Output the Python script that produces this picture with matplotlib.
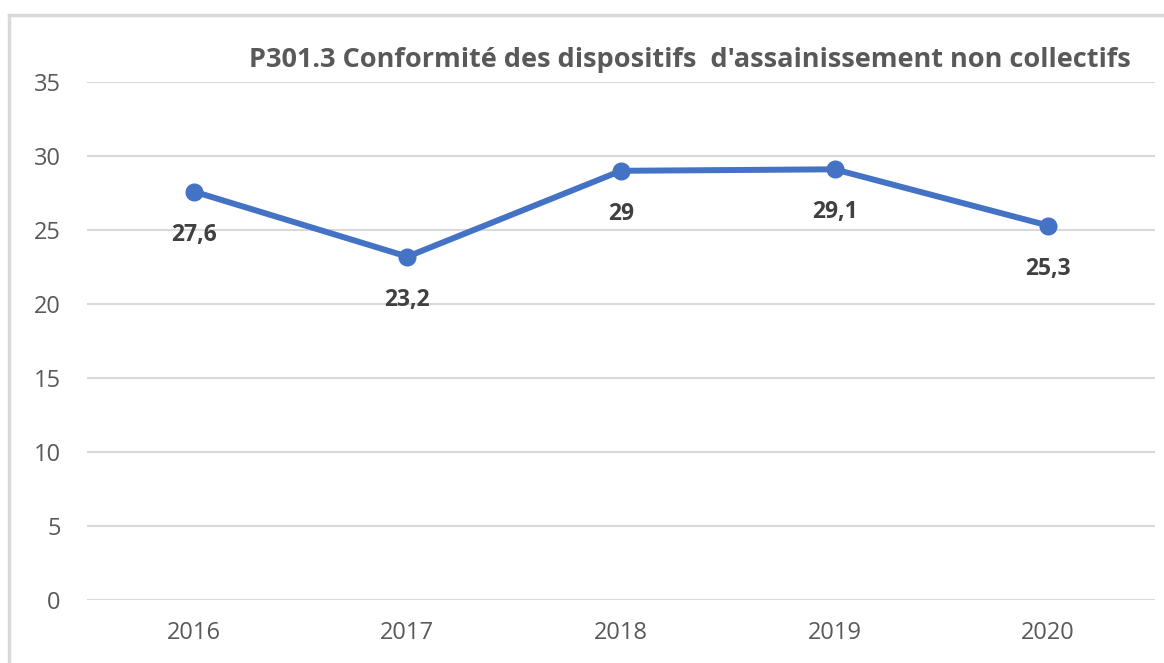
import matplotlib
matplotlib.use("Agg")
import matplotlib.pyplot as plt
from matplotlib.lines import Line2D

years = ["2016", "2017", "2018", "2019", "2020"]
values = [27.6, 23.2, 29.0, 29.1, 25.3]
value_labels = ["27,6", "23,2", "29", "29,1", "25,3"]
yticks = [0, 5, 10, 15, 20, 25, 30, 35]
title = "P301.3 Conformité des dispositifs  d'assainissement non collectifs"

plt.rcParams['font.family'] = ['Open Sans', 'DejaVu Sans']

fig = plt.figure(figsize=(11.64, 6.63), dpi=100)
ax = fig.add_axes([87/1164, 1 - 600/663, (1155-87)/1164, (600-82)/663])

x = list(range(len(years)))
ax.plot(x, values, color="#4472C4", lw=4.3, marker="o", ms=12, solid_capstyle="round", zorder=3)
for xi, v, lab in zip(x, values, value_labels):
    ax.annotate(lab, (xi, v), xytext=(0, -31), textcoords="offset points",
                ha="center", va="center", fontsize=16.5, fontweight="bold", color="#404040")

ax.set_xlim(-0.5, len(years) - 0.5)
ax.set_ylim(0, 35)
ax.set_yticks(yticks)
ax.set_xticks(x)
ax.set_xticklabels(years)
ax.grid(axis="y", color="#d9d9d9", lw=1.5)
ax.set_axisbelow(True)
for s in ax.spines.values():
    s.set_visible(False)
ax.tick_params(axis="both", length=0, labelsize=17, labelcolor="#595959")
ax.tick_params(axis="y", pad=19)
ax.tick_params(axis="x", pad=15)

fig.text(690/1164, 1 - 60/663, title, ha="center", va="center", fontsize=19.5,
         fontweight="bold", color="#595959")

# outer frame (left and top edges visible)
fig.add_artist(Line2D([9/1164, 9/1164], [0, 1 - 15/663], transform=fig.transFigure, color="#d9d9d9", lw=2.5))
fig.add_artist(Line2D([9/1164, 1], [1 - 15/663, 1 - 15/663], transform=fig.transFigure, color="#d9d9d9", lw=2.5))

fig.savefig("out.png", dpi=100)
